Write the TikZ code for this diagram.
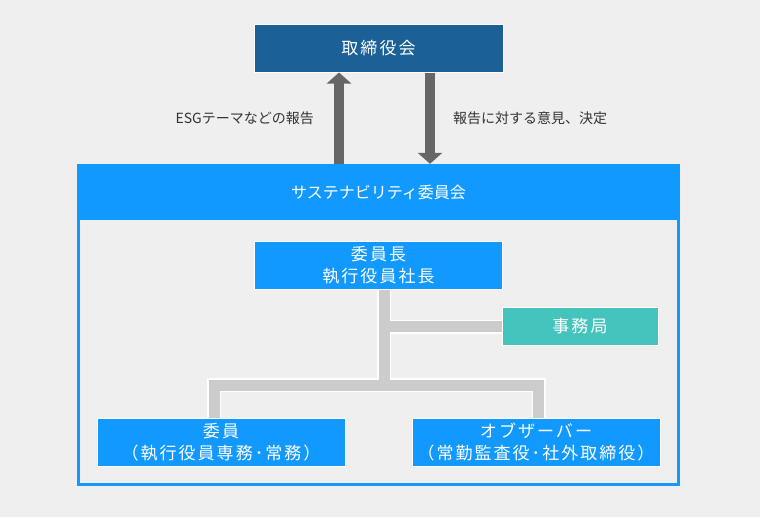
\documentclass[tikz,border=0pt]{standalone}
\usepackage{fontspec}
\setmainfont{Noto Sans CJK JP}
\newfontfamily\jpwide[LetterSpace=12]{Noto Sans CJK JP}
\usetikzlibrary{arrows.meta}
\usetikzlibrary{positioning}
\usetikzlibrary{backgrounds}
\definecolor{BoardBlue}{HTML}{1B6096}
\definecolor{BrightBlue}{HTML}{1199FF}
\definecolor{OfficeTeal}{HTML}{45C4BD}
\definecolor{LineGray}{HTML}{CCCCCC}
\definecolor{ArrowGray}{HTML}{666666}
\definecolor{NoteGray}{HTML}{333333}
\definecolor{BackGray}{HTML}{EFEFEF}
\tikzset{
  unit/.style={rectangle, draw=white, line width=1pt, fill=BrightBlue, text=white,
    minimum width=248pt, minimum height=48pt, inner sep=0pt, align=center,
    font=\jpwide\fontsize{17}{22}\selectfont},
  flow/.style={draw=ArrowGray, line width=10pt, -{Triangle[width=24pt,length=11pt]}},
  note/.style={text=NoteGray, inner sep=0pt, font=\fontsize{14}{16}\selectfont},
  tree/.style={draw=LineGray, line width=11pt, line join=miter,
    preaction={draw=white, line width=14pt}}
}
\begin{document}
\begin{tikzpicture}[x=1pt,y=-1pt]
  \useasboundingbox (0,0) rectangle (760,517);

  \node[unit, fill=BoardBlue, minimum width=249pt] (board) at (378.5,48) {取締役会};

  \node[rectangle, draw=BrightBlue, line width=3pt, minimum width=600pt,
    minimum height=319pt] (committee) at (378.5,325) {};
  \node[rectangle, fill=BrightBlue, text=white, minimum width=603pt, minimum height=56pt,
    font=\fontsize{16}{20}\selectfont] (header) at (378.5,192) {サステナビリティ委員会};

  \node[unit] (chair) at (378.5,265) {委員長\\執行役員社長};
  \node[unit, fill=OfficeTeal, minimum width=156pt, minimum height=38pt] (office)
    at (580,326.5) {事務局};
  \node[unit] (members) at (221,442.5) {委員\\（執行役員専務･常務）};
  \node[unit] (observer) at (536,442.5) {オブザーバー\\（常勤監査役･社外取締役）};

  \coordinate (upx) at (339,0);
  \coordinate (downx) at (430,0);
  \draw[flow] (header.north -| upx) -- (board.south -| upx);
  \draw[flow] (board.south -| downx) -- (header.north -| downx);

  \node[note, anchor=east] (upnote) at (314,118) {ESGテーマなどの報告};
  \node[note, anchor=west] (downnote) at (453,118) {報告に対する意見、決定};

  \begin{scope}[on background layer]
    \fill[BackGray] (0,0) rectangle (760,517);
    \coordinate (trunk) at (384,385);
    \coordinate (dropL) at (214,385);
    \coordinate (dropR) at (538.5,385);
    \draw[tree] (trunk |- chair.south) -- (trunk)
      (trunk |- office.west) -- (office.west)
      (dropL |- members.north) -- (dropL) -- (dropR) -- (dropR |- observer.north);
  \end{scope}
\end{tikzpicture}
\end{document}
